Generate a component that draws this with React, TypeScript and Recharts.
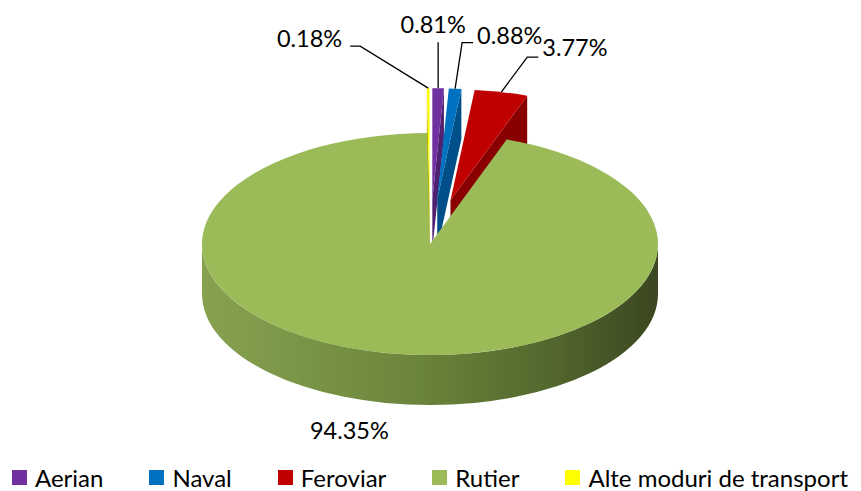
import React from "react";
import { PieChart, Pie, Cell, Legend } from "recharts";

const modes = ["Aerian", "Naval", "Feroviar", "Rutier", "Alte moduri de transport"];
const shares = [0.81, 0.88, 3.77, 94.35, 0.18];
const topColors = ["#7030a0", "#0070c0", "#c00000", "#9bbb59", "#ffff00"];
const sideColors = ["#4e2270", "#004f88", "#8a0000", "#6b853e", "#b8b800"];

const data = modes.map((name, i) => ({ name, value: shares[i] }));

const TILT = 0.487; // vertical squash of the pie disc
const DEPTH = 50; // thickness of the disc
const EXPLODE = 92; // how far the small slices are pulled out
const FONT = "Lato, 'Open Sans', sans-serif";

// leader line / text placement, relative to each slice's outer tip
const labelLayout = [
  { ex: 0, ey: -46, tail: 0, tx: -5, ty: -9, anchor: "middle", line: true },
  { ex: 7, ey: -46, tail: 11, tx: 15, ty: 1, anchor: "start", line: true },
  { ex: 26, ey: -35, tail: 11, tx: 15, ty: -1, anchor: "start", line: true },
  { ex: 0, ey: 0, tail: 0, tx: -43, ty: 35, anchor: "middle", line: false },
  { ex: -68, ey: -42, tail: -10, tx: -18, ty: 1, anchor: "end", line: true },
];

const rad = (d: number) => (d * Math.PI) / 180;

const renderSlice = (props: any) => {
  const { cx, cy, outerRadius, startAngle, endAngle, index, value } = props;
  const rx = outerRadius;
  const ry = outerRadius * TILT;
  // clockwise degrees from 12 o'clock
  const t1 = 90 - startAngle;
  const t2 = 90 - endAngle;
  const tm = (t1 + t2) / 2;
  const pull = modes[index] === "Rutier" ? 0 : EXPLODE;
  const bx = cx + pull * Math.sin(rad(tm));
  const by = cy - pull * TILT * Math.cos(rad(tm));
  const pt = (t: number, dy = 0) => [
    bx + rx * Math.sin(rad(t)),
    by - ry * Math.cos(rad(t)) + dy,
  ];

  const side = sideColors[index];
  const gradId = `side-${index}`;
  const parts: React.ReactNode[] = [];

  // radial cut faces that look toward the viewer
  const face = (t: number, key: string) => {
    const [ox, oy] = pt(t);
    return (
      <path
        key={key}
        d={`M${bx},${by} L${ox},${oy} L${ox},${oy + DEPTH} L${bx},${by + DEPTH} Z`}
        fill={side}
      />
    );
  };
  if (Math.sin(rad(t2)) > 0.001) parts.push(face(t2, "f2"));
  if (Math.sin(rad(t1)) < -0.001) parts.push(face(t1, "f1"));

  // outer wall, front half only
  const f1 = Math.max(t1, 90);
  const f2 = Math.min(t2, 270);
  if (f2 > f1) {
    const [ax, ay] = pt(f1);
    const [bx2, by2] = pt(f2);
    parts.push(
      <path
        key="wall"
        d={`M${ax},${ay} A${rx},${ry} 0 0 1 ${bx2},${by2} L${bx2},${by2 + DEPTH} A${rx},${ry} 0 0 0 ${ax},${ay + DEPTH} Z`}
        fill={`url(#${gradId})`}
      />
    );
  }

  // top face
  const [sx, sy] = pt(t1);
  const [exx, eyy] = pt(t2);
  const large = t2 - t1 > 180 ? 1 : 0;
  parts.push(
    <path
      key="top"
      d={`M${bx},${by} L${sx},${sy} A${rx},${ry} 0 ${large} 1 ${exx},${eyy} Z`}
      fill={topColors[index]}
    />
  );

  // data label
  const lay = labelLayout[index];
  const [tipX, tipY] = lay.line ? pt(tm) : pt(tm, DEPTH);
  const elX = tipX + lay.ex;
  const elY = tipY + lay.ey;
  if (lay.line) {
    parts.push(
      <polyline
        key="leader"
        points={`${tipX},${tipY} ${elX},${elY} ${elX + lay.tail},${elY}`}
        fill="none"
        stroke="#000"
        strokeWidth={1.3}
      />
    );
  }
  parts.push(
    <text
      key="txt"
      x={elX + lay.tx}
      y={elY + lay.ty}
      textAnchor={lay.anchor as any}
      fontFamily={FONT}
      fontSize={23.5}
      fill="#000"
    >
      {`${Number(value).toFixed(2)}%`}
    </text>
  );

  return (
    <g key={`slice-${index}`}>
      <defs>
        <linearGradient
          id={gradId}
          gradientUnits="userSpaceOnUse"
          x1={cx - rx}
          y1={0}
          x2={cx + rx}
          y2={0}
        >
          <stop offset="0%" stopColor="#86a250" />
          <stop offset="45%" stopColor="#6c873d" />
          <stop offset="75%" stopColor="#54692e" />
          <stop offset="100%" stopColor="#3b4720" />
        </linearGradient>
      </defs>
      {parts}
    </g>
  );
};

const renderLegend = (props: any) => {
  const payload = props.payload || [];
  // keep the series order, whatever order the legend payload comes in
  const items = modes.map((m, i) => {
    const hit = payload.find((p: any) => p.value === m);
    return { value: m, color: (hit && hit.color) || topColors[i] };
  });
  return (
    <div
      style={{
        display: "flex",
        alignItems: "center",
        fontFamily: FONT,
        fontSize: 24,
        color: "#000",
        whiteSpace: "nowrap",
      }}
    >
      {items.map((it, i) => (
        <div
          key={i}
          style={{ display: "flex", alignItems: "center", marginRight: 46 }}
        >
          <span
            style={{
              width: 15,
              height: 15,
              background: it.color,
              marginRight: 8,
              display: "inline-block",
            }}
          />
          <span>{it.value}</span>
        </div>
      ))}
    </div>
  );
};

export default function App() {
  return (
    <div style={{ position: "absolute", left: 0, top: 0, width: 861, height: 491, background: "#fff" }}>
      <PieChart width={861} height={491} margin={{ top: 0, right: 0, bottom: 0, left: 0 }}>
        <Pie
          data={data}
          dataKey="value"
          nameKey="name"
          cx={430}
          cy={244}
          outerRadius={228}
          startAngle={90}
          endAngle={-270}
          stroke="none"
          labelLine={false}
          label={renderSlice}
          isAnimationActive={false}
        >
          {data.map((d, i) => (
            <Cell key={d.name} fill={topColors[i]} fillOpacity={0} />
          ))}
        </Pie>
        <Legend
          content={renderLegend}
          wrapperStyle={{ position: "absolute", left: 12, top: 463, width: 855 }}
        />
      </PieChart>
    </div>
  );
}
